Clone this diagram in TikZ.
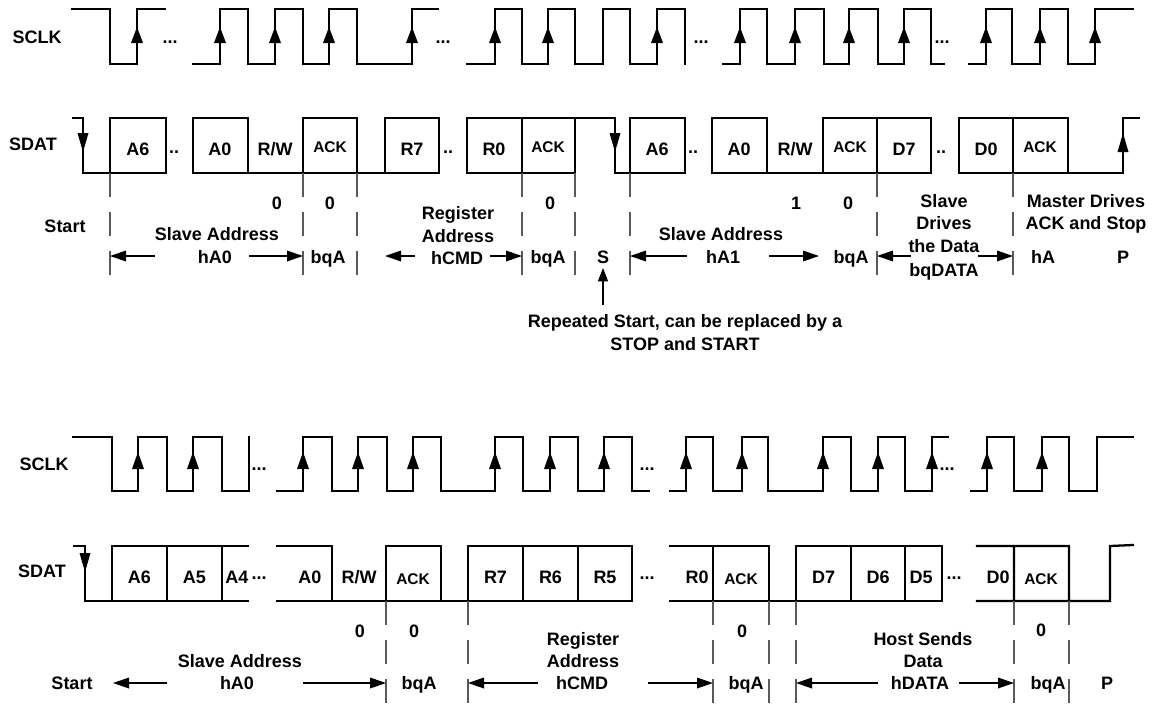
\documentclass[tikz,border=0pt]{standalone}
\usepackage{fontspec}
\setmainfont{Liberation Sans}
\usetikzlibrary{arrows.meta}
\begin{document}
\begin{tikzpicture}[x=0.75pt,y=-0.75pt,
  wave/.style={line width=1.7pt, line join=miter, line cap=rect},
  guide/.style={line width=0.8pt, black!65, dash pattern=on 18pt off 11.25pt},
  lbl/.style={font=\fontsize{13.5}{16}\selectfont\bfseries, inner sep=0pt, anchor=base},
  ack/.style={font=\fontsize{11.6}{14}\selectfont\bfseries, inner sep=0pt, anchor=base},
  dim/.style={line width=0.9pt, -{Triangle[length=12pt,width=8pt]}},
  sdim/.style={line width=0.9pt, -{Triangle[length=10pt,width=7.5pt]}},
]
\useasboundingbox (0,0) rectangle (1156,704);

% ================= TOP =================
% SCLK
\draw[wave] (72,9) -| (110,64) -| (137,9) -- (165,9);
\draw[wave] (193,64) -| (220,9) -| (248,64) -| (275,9) -| (303,64) -| (329,9) -| (357,64) -| (412,9) -- (438,9);
\draw[wave] (467,64) -| (495,9) -| (522,64) -| (548,9) -| (575,64) -| (603,9) -| (630,64) -| (657,9) -| (685,64);
\draw[wave] (723,64) -| (740,9) -| (767,64) -| (795,9) -| (824,64) -| (849,9) -| (878,64) -| (904,9) -| (931,64) -- (944,64);
\draw[wave] (969,64) -| (986,9) -| (1012,64) -| (1040,9) -| (1068,64) -| (1095,9) -- (1133,9);
\foreach \x in {137,220,275,329,412,495,548,657,740,795,849,904,986,1040,1095}
  \fill (\x-6,43) -- (\x+6,43) -- (\x,27) -- cycle;
\node[lbl] (sclkA) at (37,43) {SCLK};
\foreach \x/\n in {170/a,443/b,701/c,942/d}
  \node[lbl] (tdots\n) at (\x,43) {...};

% SDAT
\draw[wave] (73,118) -- (83,118) -- (83,173) -- (110,173);
\draw[wave] (110,118) rectangle (166,173);
\draw[wave] (193,118) rectangle (248,173);
\draw[wave] (248,173) -- (303,173);
\draw[wave] (303,118) rectangle (357,173);
\draw[wave] (357,173) -- (385,173);
\draw[wave] (385,118) rectangle (439,173);
\draw[wave] (467,118) rectangle (575,173) (522,118) -- (522,173);
\draw[wave] (575,118) -- (615,118) -- (615,173) -- (630,173);
\draw[wave] (630,118) rectangle (685,173);
\draw[wave] (712,118) rectangle (767,173);
\draw[wave] (767,173) -- (823,173);
\draw[wave] (823,118) rectangle (931,173) (877,118) -- (877,173);
\draw[wave] (959,118) rectangle (1068,173) (1013,118) -- (1013,173);
\draw[wave] (1068,173) -- (1123,173) -- (1123,118) -- (1139,118);
\fill (77.5,133) -- (88.5,133) -- (83,152) -- cycle;
\fill (609.5,133) -- (620.5,133) -- (615,152) -- cycle;
\fill (1117.5,152) -- (1128.5,152) -- (1123,133) -- cycle;
\node[lbl] (sdatA) at (33,150) {SDAT};
\foreach \x/\t/\n in {138/A6/a,220/A0/b,275/R\slash W/c,412/R7/d,494/R0/e,657/A6/f,739/A0/g,795/R\slash W/h,904/D7/i,986/D0/j}
  \node[lbl] (tb\n) at (\x,155) {\t};
\foreach \x/\n in {330/a,548/b,850/c,1040/d}
  \node[ack] (tack\n) at (\x,152) {ACK};
\foreach \x/\n in {174/a,448/b,693/c,941/d}
  \node[lbl] (tdd\n) at (\x,153) {..};

% guides
\foreach \x in {110,303,357,522,575,630,877,1013}
  \draw[guide] (\x,173) -- (\x,277);

% labels
\node[lbl] (tstart) at (65,232) {Start};
\node[lbl] (tz1) at (277,209) {0};
\node[lbl] (tz2) at (330,209) {0};
\node[lbl] (tsa1) at (217,240) {Slave Address};
\node[lbl] (tha0) at (215,263) {hA0};
\node[lbl] (tbq1) at (328,263) {bqA};
\node[lbl] (treg) at (458,219) {Register};
\node[lbl] (tadr) at (458,242) {Address};
\node[lbl] (thcmd) at (457,264) {hCMD};
\node[lbl] (tz3) at (550,209) {0};
\node[lbl] (tbq2) at (548,263) {bqA};
\node[lbl] (tS) at (603,263) {S};
\node[lbl] (trep1) at (685,327) {Repeated Start, can be replaced by a};
\node[lbl] (trep2) at (685,350) {STOP and START};
\node[lbl] (tsa2) at (721,240) {Slave Address};
\node[lbl] (tha1) at (723,263) {hA1};
\node[lbl] (tone) at (796,209) {1};
\node[lbl] (tz4) at (848,209) {0};
\node[lbl] (tbq3) at (851,263) {bqA};
\node[lbl] (tsl1) at (944,207) {Slave};
\node[lbl] (tsl2) at (944,229) {Drives};
\node[lbl] (tsl3) at (944,252) {the Data};
\node[lbl] (tsl4) at (944,276) {bqDATA};
\node[lbl] (tma1) at (1086,207) {Master Drives};
\node[lbl] (tma2) at (1086,229) {ACK and Stop};
\node[lbl] (tha) at (1043,263) {hA};
\node[lbl] (tP) at (1123,263) {P};

\coordinate (a1s) at (155,256); \coordinate (a1e) at (110,256);
\coordinate (a2s) at (249,256); \coordinate (a2e) at (303,256);
\coordinate (a3s) at (415,256); \coordinate (a3e) at (385,256);
\coordinate (a4s) at (490,256); \coordinate (a4e) at (522,256);
\coordinate (a5s) at (687,256); \coordinate (a5e) at (630,256);
\coordinate (a6s) at (769,256); \coordinate (a6e) at (819,256);
\coordinate (a7s) at (911,256); \coordinate (a7e) at (877,256);
\coordinate (a8s) at (978,256); \coordinate (a8e) at (1013,256);
\foreach \i in {1,...,8} \draw[dim] (a\i s) -- (a\i e);
\coordinate (sup) at (603,305); \coordinate (stip) at (603,268);
\draw[sdim] (sup) -- (stip);

% ================= BOTTOM =================
% SCLK
\draw[wave] (73,437) -| (112,491) -| (138,437) -| (167,491) -| (193,437) -| (222,491) -| (249,437);
\draw[wave] (277,491) -| (303,437) -| (332,491) -| (358,437) -| (387,491) -| (413,437) -| (441,491) -| (495,437) -| (523,491) -| (550,437) -| (578,491) -| (604,437) -| (632,491) -- (649,491);
\draw[wave] (670,491) -| (686,437) -| (713,491) -| (742,437) -| (768,491) -| (823,437) -| (851,491) -| (878,437) -| (905,491) -| (932,437) -- (948,437);
\draw[wave] (971,491) -| (987,437) -| (1014,491) -| (1042,437) -| (1069,491) -| (1097,437) -- (1133,437);
\foreach \x in {138,193,303,358,413,495,550,604,686,742,823,878,932,987,1042}
  \fill (\x-6,469) -- (\x+6,469) -- (\x,452) -- cycle;
\node[lbl] (sclkB) at (44,470) {SCLK};
\foreach \x/\n in {259/a,647/b,947/c}
  \node[lbl] (bdots\n) at (\x,470) {...};

% SDAT
\draw[wave] (74,546) -- (85,546) -- (85,601) -- (112,601);
\draw[wave] (248,546) -- (112,546) -- (112,601) -- (248,601) (167,546) -- (167,601) (222,546) -- (222,601);
\draw[wave] (277,546) -- (332,546) -- (332,601) (277,601) -- (632,601)
  (386,601) -- (386,546) -- (441,546) -- (441,601)
  (468,601) -- (468,546) -- (632,546) -- (632,601) (523,546) -- (523,601) (578,546) -- (578,601);
\draw[wave] (670,546) -- (713,546) (670,601) -- (942,601)
  (713,601) -- (713,546) -- (769,546) -- (769,601)
  (796,601) -- (796,546) -- (942,546) -- (942,601) (851,546) -- (851,601) (905,546) -- (905,601);
\draw[wave] (977,546) -- (1069,546) -- (1069,601) (977,601) -- (1110,601) -- (1110,546) -- (1133,545) (1014,546) -- (1014,601);
\fill (79.5,553) -- (90.5,553) -- (85,572) -- cycle;
\node[lbl] (sdatB) at (42,577) {SDAT};
\foreach \x/\t/\n in {139.5/A6/a,194.5/A5/b,237/A4/c,310/A0/d,359/R\slash W/e,495.5/R7/f,550.5/R6/g,605/R5/h,697/R0/i,823.5/D7/j,878/D6/k,921/D5/l,998/D0/m}
  \node[lbl] (bb\n) at (\x,583) {\t};
\foreach \x/\n in {413/a,741/b,1041/c}
  \node[ack] (back\n) at (\x,584) {ACK};
\foreach \x/\n in {259/a,647/b,954/c}
  \node[lbl] (bdd\n) at (\x,579) {...};

% guides
\foreach \x in {386,468,713,769,796,1014,1069}
  \draw[guide] (\x,601) -- (\x,704);

% labels
\node[lbl] (bz1) at (360,637) {0};
\node[lbl] (bz2) at (414,637) {0};
\node[lbl] (bz3) at (742,637) {0};
\node[lbl] (bz4) at (1041,636) {0};
\node[lbl] (bsa) at (240,667) {Slave Address};
\node[lbl] (bstart) at (72,689) {Start};
\node[lbl] (bha0) at (237,689) {hA0};
\node[lbl] (bbq1) at (419,689) {bqA};
\node[lbl] (breg) at (583,645) {Register};
\node[lbl] (badr) at (583,667) {Address};
\node[lbl] (bhcmd) at (582,689) {hCMD};
\node[lbl] (bbq2) at (746,689) {bqA};
\node[lbl] (bhs1) at (923,645) {Host Sends};
\node[lbl] (bhs2) at (923,667) {Data};
\node[lbl] (bhdata) at (920,689) {hDATA};
\node[lbl] (bbq3) at (1048,689) {bqA};
\node[lbl] (bP) at (1107,689) {P};

\coordinate (b1s) at (167,683); \coordinate (b1e) at (113,683);
\coordinate (b2s) at (303,683); \coordinate (b2e) at (386,683);
\coordinate (b3s) at (538,683); \coordinate (b3e) at (468,683);
\coordinate (b4s) at (648,683); \coordinate (b4e) at (713,683);
\coordinate (b5s) at (878,683); \coordinate (b5e) at (796,683);
\coordinate (b6s) at (959,683); \coordinate (b6e) at (1014,683);
\foreach \i in {1,...,6} \draw[dim] (b\i s) -- (b\i e);
\end{tikzpicture}
\end{document}
